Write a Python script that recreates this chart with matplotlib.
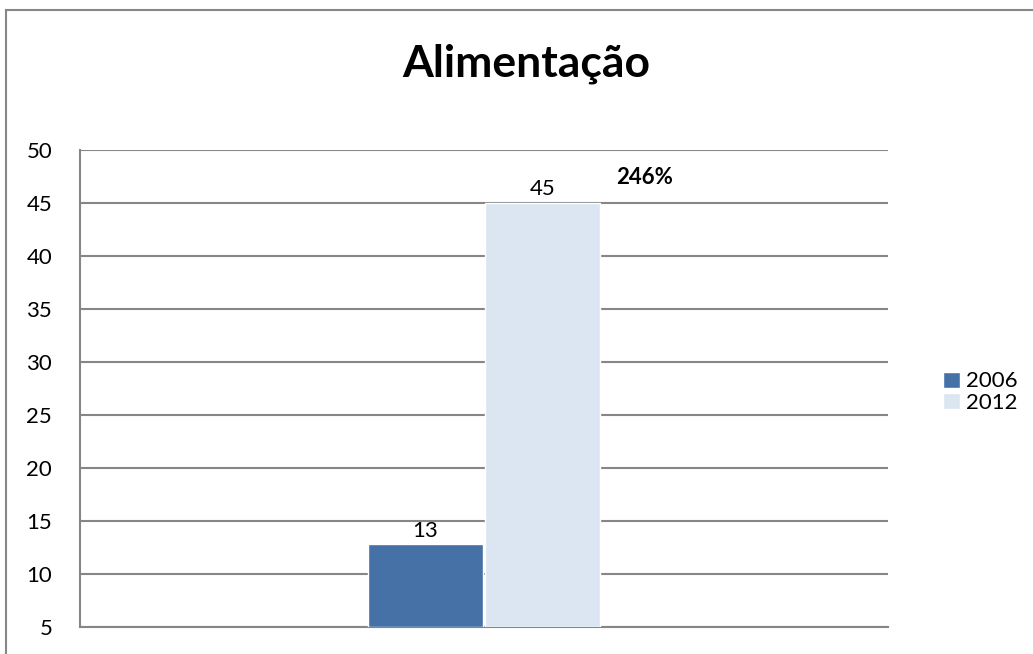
import matplotlib.pyplot as plt
from matplotlib.patches import Rectangle

# dados
categorias = ["Alimentação"]
anos = ["2006", "2012"]
valores_2006 = [12.8]
valores_2012 = [45]
rotulos_2006 = ["13"]
rotulos_2012 = ["45"]
variacao = "246%"
y_ticks = [5, 10, 15, 20, 25, 30, 35, 40, 45, 50]

plt.rcParams['font.family'] = ['Lato', 'DejaVu Sans']

fig = plt.figure(figsize=(10.33, 6.54), dpi=100)
ax = fig.add_axes([0.0774, 0.0413, 0.7822, 0.7294])

# moldura externa do grafico (so esquerda e topo aparecem)
fig.patches.append(Rectangle((6 / 1033, -0.5), 2.0, 1.5 - 10 / 654,
                             transform=fig.transFigure, fill=False,
                             edgecolor='#868686', linewidth=1.5))

x = list(range(len(categorias)))
largura = 0.142
desloc = 0.0724
b1 = ax.bar([i - desloc for i in x], [v - y_ticks[0] for v in valores_2006],
            bottom=y_ticks[0], width=largura, color='#4571A7',
            edgecolor='white', linewidth=1, label=anos[0], zorder=3)
b2 = ax.bar([i + desloc for i in x], [v - y_ticks[0] for v in valores_2012],
            bottom=y_ticks[0], width=largura, color='#DCE6F2',
            edgecolor='white', linewidth=1, label=anos[1], zorder=3)

for barras, rotulos in [(b1, rotulos_2006), (b2, rotulos_2012)]:
    for rect, txt in zip(barras, rotulos):
        ax.text(rect.get_x() + rect.get_width() / 2, rect.get_y() + rect.get_height() + 0.35,
                txt, ha='center', va='bottom', fontsize=16)

ax.text(0.199, 47.4, variacao, ha='center', va='center', fontsize=16, fontweight='bold')

ax.set_xlim(-0.5, 0.5)
ax.set_ylim(y_ticks[0], y_ticks[-1])
ax.set_yticks(y_ticks)
ax.set_xticks([])
ax.tick_params(axis='y', length=0, pad=20, labelsize=16)
ax.yaxis.grid(True, color='#868686', linewidth=1.5)
ax.set_axisbelow(True)
for s in ['top', 'right']:
    ax.spines[s].set_visible(False)
for s in ['left', 'bottom']:
    ax.spines[s].set_color('#868686')
    ax.spines[s].set_linewidth(1.5)

fig.text(526 / 1033, 1 - 64 / 654, categorias[0], ha='center', va='center',
         fontsize=32, fontweight='bold')

fig.legend(handles=[b1, b2], loc='center left', bbox_to_anchor=(932 / 1033, 1 - 392 / 654),
           frameon=False, fontsize=16, handlelength=0.75, handleheight=0.75,
           handletextpad=0.3, labelspacing=0.05, borderpad=0)

fig.savefig('out.png', dpi=100)
